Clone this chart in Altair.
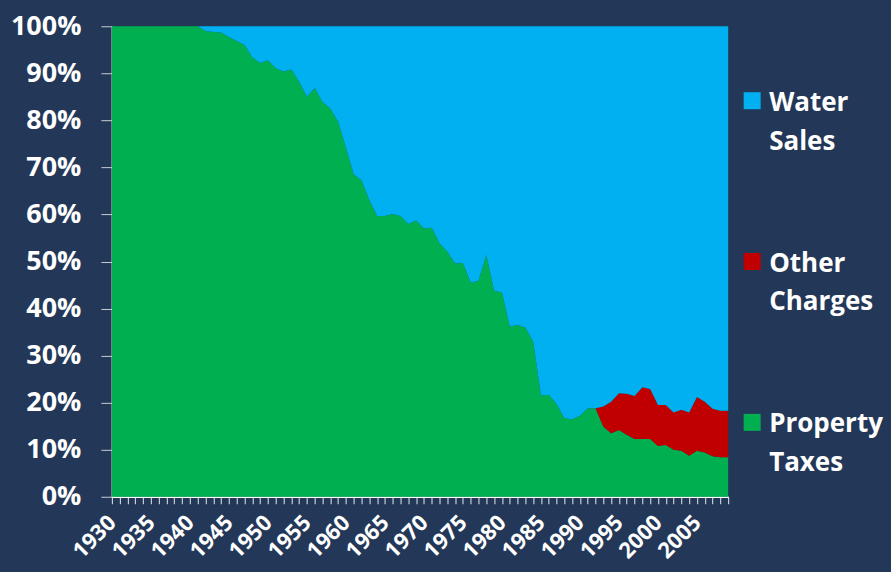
import altair as alt
import pandas as pd

# Revenue shares by source, percent of total, 1930-2009
years = list(range(1930, 2010))

property_taxes = [
    100, 100, 100, 100, 100, 100, 100, 100, 100, 100,   # 1930-1939
    100, 100, 99.0, 98.8, 98.7, 97.7, 96.9, 96.0, 93.4, 92.2,   # 1940-1949
    92.8, 91.1, 90.4, 90.8, 88.2, 85.0, 86.9, 83.9, 82.5, 79.7,  # 1950-1959
    74.2, 68.5, 67.3, 63.1, 59.7, 59.7, 60.1, 59.7, 58.0, 58.7,  # 1960-1969
    57.0, 57.2, 53.9, 52.1, 49.6, 49.7, 45.5, 45.9, 51.4, 43.8,  # 1970-1979
    43.4, 36.2, 36.5, 36.0, 33.0, 21.5, 21.7, 19.7, 16.7, 16.5,  # 1980-1989
    17.2, 18.8, 18.8, 14.9, 13.5, 14.2, 13.2, 12.3, 12.3, 12.3,  # 1990-1999
    10.8, 11.0, 10.0, 9.8, 8.7, 9.8, 9.4, 8.6, 8.4, 8.4,         # 2000-2009
]

other_charges = [
    0, 0, 0, 0, 0, 0, 0, 0, 0, 0,
    0, 0, 0, 0, 0, 0, 0, 0, 0, 0,
    0, 0, 0, 0, 0, 0, 0, 0, 0, 0,
    0, 0, 0, 0, 0, 0, 0, 0, 0, 0,
    0, 0, 0, 0, 0, 0, 0, 0, 0, 0,
    0, 0, 0, 0, 0, 0, 0, 0, 0, 0,
    0, 0, 0, 4.3, 6.7, 7.8, 8.7, 9.1, 11.0, 10.6,
    8.7, 8.5, 7.9, 8.7, 9.2, 11.4, 10.8, 10.1, 9.9, 9.9,
]

water_sales = [
    0, 0, 0, 0, 0, 0, 0, 0, 0, 0,
    0, 0, 1.0, 1.2, 1.3, 2.3, 3.1, 4.0, 6.6, 7.8,
    7.2, 8.9, 9.6, 9.2, 11.8, 15.0, 13.1, 16.1, 17.5, 20.3,
    25.8, 31.5, 32.7, 36.9, 40.3, 40.3, 39.9, 40.3, 42.0, 41.3,
    43.0, 42.8, 46.1, 47.9, 50.4, 50.3, 54.5, 54.1, 48.6, 56.2,
    56.6, 63.8, 63.5, 64.0, 67.0, 78.5, 78.3, 80.3, 83.3, 83.5,
    82.8, 81.2, 81.2, 80.8, 79.8, 78.0, 78.1, 78.6, 76.7, 77.1,
    80.5, 80.5, 82.1, 81.5, 82.1, 78.8, 79.8, 81.3, 81.7, 81.7,
]

sources = ["Property Taxes", "Other Charges", "Water Sales"]
colors = ["#00B050", "#C00000", "#00B0F0"]

# Legend entries, top to bottom
legend_sources = ["Water Sales", "Other Charges", "Property Taxes"]
legend_line1 = ["Water", "Other", "Property"]
legend_line2 = ["Sales", "Charges", "Taxes"]

series = [property_taxes, other_charges, water_sales]
rows = []
for layer, (name, values) in enumerate(zip(sources, series)):
    for year, v in zip(years, values):
        rows.append({"Year": year, "Source": name, "Share": v, "Layer": layer})
df = pd.DataFrame(rows)

FONT = "Open Sans"
color_scale = alt.Scale(domain=sources, range=colors)

area = alt.Chart(df).mark_area(interpolate="linear").encode(
    x=alt.X(
        "Year:Q",
        scale=alt.Scale(domain=[1930, 2009], nice=False, zero=False),
        axis=alt.Axis(
            values=years,
            format="d",
            labelExpr="datum.value % 5 == 0 ? datum.label : ''",
            labelAngle=-45,
            labelAlign="right",
            labelBaseline="middle",
            labelOverlap=False,
            labelPadding=15,
            labelFont=FONT,
            labelFontWeight="bold",
            labelFontSize=22,
            labelColor="white",
            tickSize=7,
            tickColor="#e8e8e8",
            domainColor="white",
            domainWidth=1.5,
            grid=False,
            title=None,
        ),
    ),
    y=alt.Y(
        "Share:Q",
        stack="normalize",
        scale=alt.Scale(domain=[0, 1]),
        axis=alt.Axis(
            values=[0, 0.1, 0.2, 0.3, 0.4, 0.5, 0.6, 0.7, 0.8, 0.9, 1.0],
            format=".0%",
            labelFont=FONT,
            labelFontWeight="bold",
            labelFontSize=27,
            labelColor="white",
            labelPadding=20,
            tickSize=11,
            tickColor="#c8ccd4",
            domainColor="white",
            domainWidth=1.5,
            grid=False,
            title=None,
        ),
    ),
    color=alt.Color("Source:N", scale=color_scale, legend=None),
    order=alt.Order("Layer:Q"),
).properties(width=617, height=471)

legend_df = pd.DataFrame({
    "Source": legend_sources,
    "line1": legend_line1,
    "line2": legend_line2,
})
ypos = alt.Y(
    "Source:N",
    scale=alt.Scale(type="point", domain=legend_sources, padding=0.4627),
    axis=None,
)
swatches = alt.Chart(legend_df).mark_square(size=289, opacity=1).encode(
    x=alt.value(9),
    y=ypos,
    color=alt.Color("Source:N", scale=color_scale, legend=None),
)
text_style = dict(align="left", baseline="middle", font=FONT, fontWeight="bold",
                  fontSize=26, color="white")
label_top = alt.Chart(legend_df).mark_text(dy=2, **text_style).encode(
    x=alt.value(26), y=ypos, text="line1:N"
)
label_bottom = alt.Chart(legend_df).mark_text(dy=41, **text_style).encode(
    x=alt.value(26), y=ypos, text="line2:N"
)
legend_panel = alt.layer(swatches, label_top, label_bottom).properties(width=140, height=471)

chart = alt.hconcat(area, legend_panel, spacing=15, bounds="flush").configure(
    background="#233858",
    padding={"left": 10, "top": 12, "right": 8, "bottom": 9},
).configure_view(stroke=None)

chart.save("out.html", embed_options={"renderer": "svg", "actions": False})
